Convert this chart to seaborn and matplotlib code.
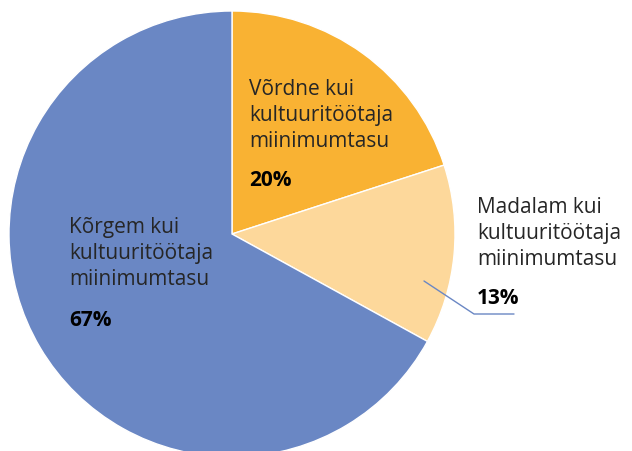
import matplotlib
matplotlib.use("Agg")
import matplotlib.pyplot as plt
import seaborn as sns

sns.set_theme(style="white")
plt.rcParams['font.family'] = ['Open Sans', 'DejaVu Sans']

# data
labels = ["Võrdne kui\nkultuuritöötaja\nmiinimumtasu",
          "Madalam kui\nkultuuritöötaja\nmiinimumtasu",
          "Kõrgem kui\nkultuuritöötaja\nmiinimumtasu"]
shares = [20, 13, 67]
colors = ["#F9B233", "#FDD89B", "#6A87C4"]

fig = plt.figure(figsize=(6.32, 4.52), dpi=100)
ax = fig.add_axes([0, 0, 1, 1])

ax.pie(shares, colors=colors, startangle=90, counterclock=False,
       center=(232, 217), radius=223, frame=True,
       wedgeprops=dict(edgecolor='white', linewidth=1))
ax.set_xlim(0, 632)
ax.set_ylim(0, 452)
ax.set_aspect('equal')
ax.axis('off')

# label positions (pixel coords, y from top)
pos = [(249, 79, 181), (477, 197, 299), (69, 217, 321)]
for lab, val, (x, ytop, yp) in zip(labels, shares, pos):
    ax.text(x, 452 - ytop, lab, ha='left', va='top', fontsize=15,
            color='#262626', linespacing=1.3)
    ax.text(x, 452 - yp, f"{val}%", ha='left', va='center', fontsize=15,
            color='black', fontweight='bold')

# leader line for the small slice
ax.plot([424, 474, 514], [452 - 282, 452 - 315, 452 - 315],
        color='#6A87C4', lw=1)

fig.savefig('out.png', dpi=100)
